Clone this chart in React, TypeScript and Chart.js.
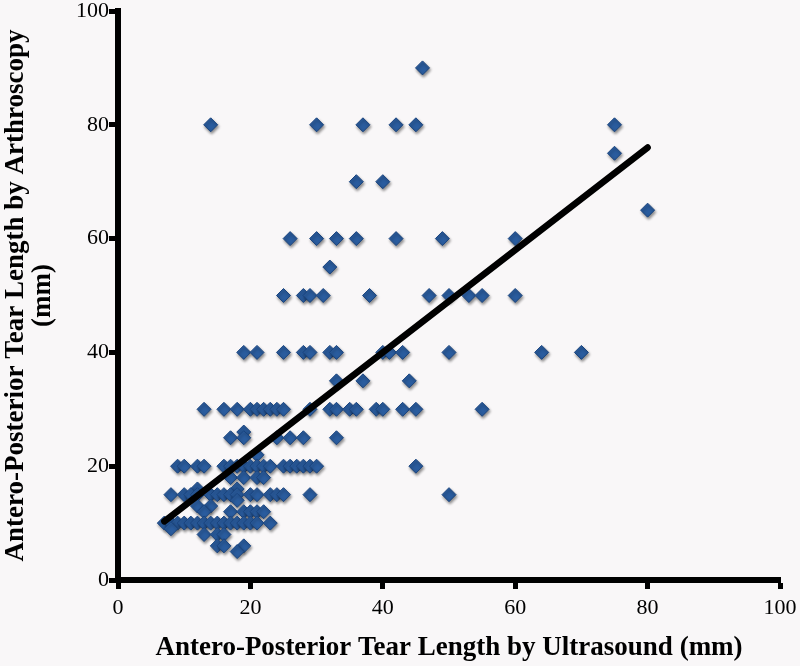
import React, { useEffect, useRef } from "react";
import { Chart, registerables } from "chart.js";

Chart.register(...registerables);

// Antero-posterior tear length by ultrasound (x, mm)
const ultrasoundMm = [
  46,
  14, 30, 37, 42, 45, 75,
  75,
  36, 40,
  80,
  26, 30, 33, 36, 42, 49, 60,
  32,
  25, 28, 29, 31, 38, 47, 50, 53, 55, 60,
  19, 21, 25, 28, 29, 32, 33, 40, 41, 43, 50, 64, 70,
  33, 37, 44,
  13, 16, 18, 20, 21, 22, 23, 24, 25, 29, 32, 33, 35, 36, 39, 40, 43, 45, 55,
  19,
  17, 19, 24, 26, 28, 33,
  21,
  9, 10, 12, 13, 16, 17, 18, 19, 20, 21, 22, 23, 25, 26, 27, 28, 29, 30, 45,
  17, 19, 21, 22,
  12, 18,
  8, 10, 11, 12, 14, 15, 16, 17, 18, 20, 21, 23, 24, 25, 29, 50,
  18,
  12, 14,
  13, 17, 19, 20, 21, 22,
  7, 8, 9, 10, 11, 12, 13, 14, 15, 16, 17, 18, 19, 20, 21, 23,
  8,
  13, 15, 16,
  15, 16, 19,
  18,
];

// Antero-posterior tear length by arthroscopy (y, mm)
const arthroscopyMm = [
  90,
  80, 80, 80, 80, 80, 80,
  75,
  70, 70,
  65,
  60, 60, 60, 60, 60, 60, 60,
  55,
  50, 50, 50, 50, 50, 50, 50, 50, 50, 50,
  40, 40, 40, 40, 40, 40, 40, 40, 40, 40, 40, 40, 40,
  35, 35, 35,
  30, 30, 30, 30, 30, 30, 30, 30, 30, 30, 30, 30, 30, 30, 30, 30, 30, 30, 30,
  26,
  25, 25, 25, 25, 25, 25,
  22,
  20, 20, 20, 20, 20, 20, 20, 20, 20, 20, 20, 20, 20, 20, 20, 20, 20, 20, 20,
  18, 18, 18, 18,
  16, 16,
  15, 15, 15, 15, 15, 15, 15, 15, 15, 15, 15, 15, 15, 15, 15, 15,
  14,
  13, 13,
  12, 12, 12, 12, 12, 12,
  10, 10, 10, 10, 10, 10, 10, 10, 10, 10, 10, 10, 10, 10, 10, 10,
  9,
  8, 8, 8,
  6, 6, 6,
  5,
];

// Regression line end points
const trendUltrasound = [7, 80];
const trendArthroscopy = [10.3, 76];

const xTickValues = [0, 20, 40, 60, 80, 100];
const yTickValues = [0, 20, 40, 60, 80, 100];

const xTitle = "Antero-Posterior Tear Length by Ultrasound (mm)";
const yTitle = ["Antero-Posterior Tear Length by Arthroscopy", "(mm)"];

const FONT = "'Liberation Serif', 'Times New Roman', serif";

const shadowPlugin = {
  id: "pointShadow",
  beforeDatasetDraw(chart: any, args: any) {
    if (args.index !== 1) return;
    const ctx = chart.ctx;
    ctx.save();
    ctx.shadowColor = "rgba(0,0,0,0.45)";
    ctx.shadowBlur = 3;
    ctx.shadowOffsetX = 1;
    ctx.shadowOffsetY = 2;
  },
  afterDatasetDraw(chart: any, args: any) {
    if (args.index !== 1) return;
    chart.ctx.restore();
  },
};

export default function App() {
  const ref = useRef<HTMLCanvasElement>(null);

  useEffect(() => {
    if (!ref.current) return;
    const points = ultrasoundMm.map((x, i) => ({ x, y: arthroscopyMm[i] }));
    const trend = trendUltrasound.map((x, i) => ({ x, y: trendArthroscopy[i] }));

    const chart = new Chart(ref.current, {
      type: "scatter",
      data: {
        datasets: [
          {
            label: "Linear fit",
            data: trend,
            showLine: true,
            borderColor: "#000000",
            borderWidth: 6.5,
            borderCapStyle: "round",
            pointRadius: 0,
            fill: false,
          } as any,
          {
            label: "Tears",
            data: points,
            pointStyle: "rectRot",
            pointRadius: 7,
            backgroundColor: "#2a5c9e",
            borderColor: "#1a447e",
            borderWidth: 1,
          },
        ],
      },
      options: {
        responsive: false,
        animation: false,
        layout: { padding: { top: 11, right: 20, left: 0, bottom: 0 } },
        plugins: {
          legend: { display: false },
          tooltip: { enabled: false },
        },
        scales: {
          x: {
            type: "linear",
            min: 0,
            max: 100,
            afterBuildTicks: (s: any) => {
              s.ticks = xTickValues.map((v) => ({ value: v }));
            },
            afterFit: (s: any) => {
              s.height = 86;
              s.paddingLeft = 0;
              s.paddingRight = 0;
            },
            grid: {
              drawOnChartArea: false,
              drawTicks: true,
              tickLength: 9,
              tickWidth: 5,
              tickColor: "#000000",
            },
            border: { display: true, width: 6, color: "#000000" },
            ticks: {
              color: "#000000",
              font: { family: FONT, size: 22, lineHeight: 1.0 },
              padding: 8,
              maxRotation: 0,
            },
            title: {
              display: true,
              text: xTitle,
              color: "#000000",
              font: { family: FONT, size: 27, weight: "bold", lineHeight: 1.2 },
              padding: { top: 0, bottom: 2 },
            },
          },
          y: {
            type: "linear",
            min: 0,
            max: 100,
            afterBuildTicks: (s: any) => {
              s.ticks = yTickValues.map((v) => ({ value: v }));
            },
            afterFit: (s: any) => {
              s.width = 118;
              s.paddingTop = 0;
              s.paddingBottom = 0;
            },
            grid: {
              drawOnChartArea: false,
              drawTicks: true,
              tickLength: 9,
              tickWidth: 5,
              tickColor: "#000000",
            },
            border: { display: true, width: 6, color: "#000000" },
            ticks: {
              color: "#000000",
              font: { family: FONT, size: 22, lineHeight: 1.0 },
              padding: 0,
            },
            title: {
              display: true,
              text: yTitle,
              color: "#000000",
              font: { family: FONT, size: 27, weight: "bold", lineHeight: 1.0 },
              padding: { top: 3, bottom: 0 },
            },
          },
        },
      } as any,
      plugins: [shadowPlugin],
    });
    return () => chart.destroy();
  }, []);

  return (
    <div
      style={{
        position: "fixed",
        left: 0,
        top: 0,
        width: 800,
        height: 666,
        background: "#f9f7f8",
      }}
    >
      <canvas ref={ref} width={800} height={666} style={{ width: 800, height: 666, display: "block" }} />
    </div>
  );
}
